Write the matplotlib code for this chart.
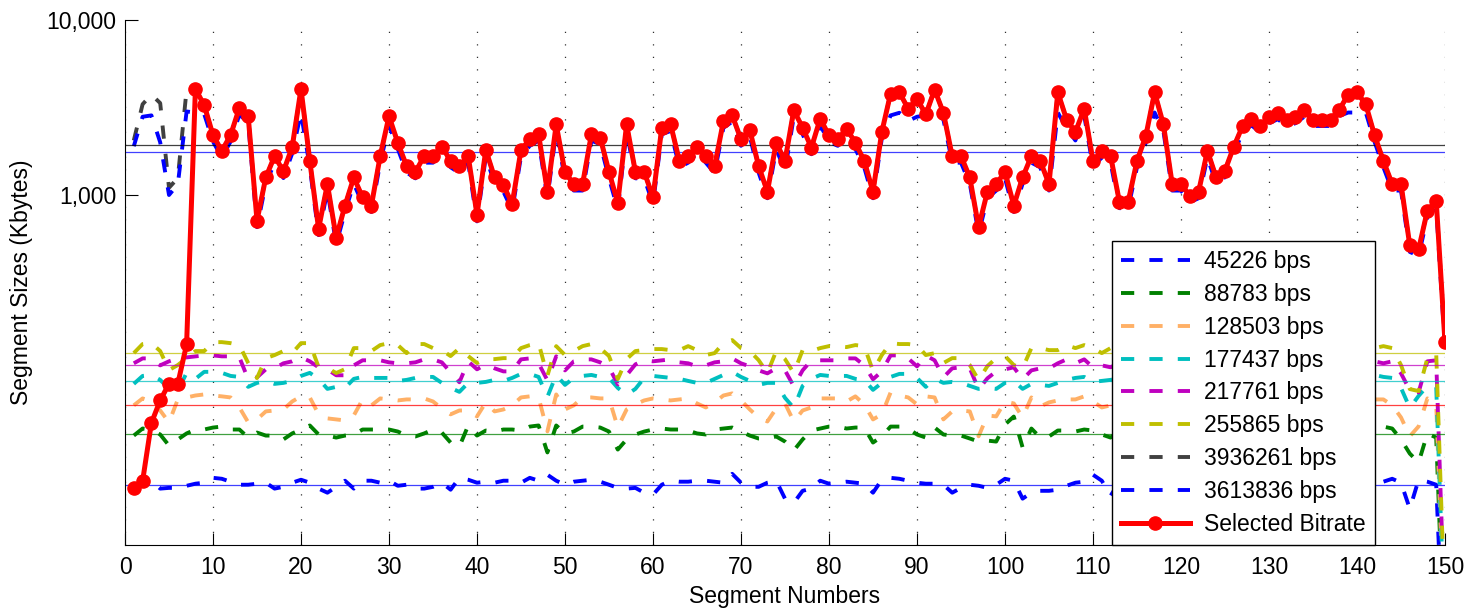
import numpy as np
import matplotlib
matplotlib.use('Agg')
import matplotlib.pyplot as plt
from matplotlib.ticker import FixedLocator, NullLocator

plt.rcParams['font.family'] = ['Liberation Sans', 'DejaVu Sans']

# segment numbers and bitrate labels
segments = np.arange(1, 151)
bitrates = [45226, 88783, 128503, 177437, 217761, 255865, 3936261, 3613836]
seg_dur = 4  # seconds per segment

# segment sizes (Kbytes)
size_45226 = [
    22.1, 22.7, 23.3, 21.0, 21.2, 21.2, 21.8, 22.4, 22.7, 24.2, 23.9, 23.0, 22.1, 22.1, 22.4,
    22.7, 21.0, 21.5, 22.7, 23.6, 22.7, 21.0, 19.9, 21.5, 23.3, 21.0, 23.3, 23.3, 22.7, 23.3,
    21.8, 22.1, 21.0, 21.0, 21.5, 22.7, 20.7, 24.2, 23.6, 22.7, 23.0, 22.7, 23.3, 23.3, 22.7,
    24.2, 23.3, 25.2, 23.3, 22.1, 23.0, 23.3, 23.6, 23.0, 22.1, 21.2, 21.0, 21.2, 19.9, 19.4,
    22.1, 23.3, 23.0, 23.0, 23.3, 23.3, 23.0, 22.7, 25.5, 22.7, 21.5, 21.5, 22.7, 23.3, 18.4,
    17.4, 20.4, 21.0, 23.3, 22.4, 22.7, 23.0, 22.7, 22.4, 19.9, 23.6, 24.2, 23.9, 23.3, 22.7,
    22.4, 22.4, 22.1, 19.9, 21.2, 22.1, 21.8, 21.2, 22.1, 23.9, 23.3, 18.4, 19.9, 20.4, 20.4,
    20.7, 21.8, 22.7, 23.0, 25.2, 23.3, 19.1, 23.0, 21.0, 22.0, 24.0, 21.0, 23.0, 20.0, 22.0,
    23.0, 24.0, 21.0, 22.0, 23.0, 20.0, 22.0, 23.0, 22.0, 24.0, 22.0, 21.0, 23.0, 24.0, 21.0,
    22.0, 20.0, 23.0, 24.0, 22.0, 23.0, 23.0, 23.0, 23.9, 22.7, 16.1, 23.6, 23.0, 22.1, 1.5]
size_88783 = [
    42.2, 46.3, 45.7, 42.8, 37.0, 40.1, 43.4, 45.7, 45.7, 46.9, 47.5, 45.7, 45.7, 41.1, 43.9,
    42.2, 42.2, 40.1, 43.4, 45.7, 48.2, 42.8, 42.2, 41.1, 42.2, 42.8, 45.7, 45.7, 45.7, 45.7,
    44.5, 42.2, 41.7, 43.4, 45.7, 43.9, 38.5, 36.5, 48.2, 42.2, 45.1, 44.5, 45.7, 45.7, 45.1,
    47.5, 48.2, 33.8, 48.2, 43.4, 44.5, 47.5, 47.5, 46.9, 44.5, 35.1, 40.1, 42.8, 44.5, 45.7,
    46.3, 45.7, 45.7, 45.1, 43.4, 42.8, 45.7, 46.3, 46.9, 44.5, 42.2, 40.6, 40.6, 41.7, 39.0,
    34.7, 40.1, 45.1, 46.3, 47.5, 47.5, 46.3, 46.9, 46.9, 38.5, 41.7, 47.5, 47.5, 46.3, 42.8,
    41.1, 46.9, 42.8, 42.2, 42.2, 40.6, 39.0, 39.5, 39.0, 48.8, 54.2, 36.1, 46.3, 41.1, 41.7,
    45.1, 45.1, 44.5, 45.7, 45.1, 42.8, 41.1, 45.0, 40.0, 44.0, 47.0, 42.0, 45.0, 38.0, 43.0,
    46.0, 48.0, 41.0, 44.0, 45.0, 39.0, 45.0, 47.0, 42.0, 48.0, 44.0, 40.0, 46.0, 47.0, 42.0,
    45.0, 39.0, 46.0, 48.0, 43.0, 45.0, 46.3, 47.5, 46.3, 40.1, 33.3, 29.6, 43.4, 41.1, 2.0]
size_128503 = [
    62.8, 68.8, 66.1, 58.7, 50.2, 67.9, 69.7, 71.5, 72.5, 71.5, 70.7, 69.7, 61.1, 50.2, 52.2,
    58.0, 58.7, 59.5, 66.1, 70.7, 69.7, 55.8, 52.9, 52.2, 51.5, 55.0, 67.9, 62.8, 68.8, 67.9,
    67.0, 67.9, 67.9, 68.8, 66.1, 60.3, 55.8, 58.7, 58.7, 54.3, 65.3, 58.0, 59.5, 62.8, 69.7,
    70.7, 69.7, 44.6, 72.5, 59.5, 62.8, 69.7, 69.7, 68.8, 68.8, 47.0, 59.5, 63.6, 67.0, 68.8,
    67.9, 67.0, 67.9, 68.8, 64.4, 61.1, 65.3, 71.5, 73.5, 67.0, 59.5, 53.6, 50.8, 60.3, 64.4,
    50.8, 58.7, 61.1, 68.8, 68.8, 68.8, 66.1, 70.7, 63.6, 52.2, 55.8, 74.4, 71.5, 69.7, 63.6,
    70.7, 69.7, 52.2, 58.0, 58.7, 58.0, 41.8, 55.0, 54.3, 66.1, 64.4, 53.6, 69.7, 61.9, 65.3,
    67.0, 67.9, 67.9, 70.7, 66.1, 61.1, 62.8, 66.0, 58.0, 63.0, 68.0, 60.0, 65.0, 56.0, 62.0,
    67.0, 70.0, 59.0, 64.0, 66.0, 57.0, 65.0, 68.0, 61.0, 71.0, 63.0, 58.0, 66.0, 69.0, 61.0,
    65.0, 56.0, 67.0, 70.0, 62.0, 66.0, 67.9, 67.9, 62.8, 53.6, 41.8, 47.6, 68.8, 64.4, 2.5]
size_177437 = [
    83.3, 92.5, 93.7, 87.8, 78.0, 76.0, 96.3, 89.0, 97.6, 97.6, 96.3, 92.5, 91.3, 80.1, 84.4,
    86.6, 83.3, 84.4, 86.6, 92.5, 96.3, 89.0, 78.0, 80.1, 79.0, 89.0, 91.3, 90.1, 90.1, 90.1,
    86.6, 87.8, 90.1, 91.3, 91.3, 84.4, 79.0, 75.0, 84.4, 84.4, 85.5, 87.8, 86.6, 90.1, 95.0,
    95.0, 91.3, 70.2, 93.7, 82.2, 90.1, 92.5, 93.7, 91.3, 90.1, 79.0, 72.1, 78.0, 90.1, 92.5,
    91.3, 90.1, 89.0, 86.6, 84.4, 84.4, 89.0, 93.7, 97.6, 91.3, 86.6, 82.2, 84.4, 84.4, 69.3,
    60.7, 81.1, 89.0, 93.7, 92.5, 92.5, 92.5, 89.0, 87.8, 77.0, 84.4, 91.3, 95.0, 95.0, 90.1,
    80.1, 89.0, 84.4, 85.5, 84.4, 81.1, 78.0, 79.0, 78.0, 84.4, 86.6, 78.0, 83.3, 82.2, 81.1,
    84.4, 87.8, 90.1, 91.3, 85.5, 86.6, 87.8, 90.0, 81.0, 88.0, 93.0, 84.0, 89.0, 78.0, 87.0,
    91.0, 95.0, 83.0, 88.0, 90.0, 80.0, 89.0, 92.0, 86.0, 96.0, 88.0, 82.0, 91.0, 94.0, 85.0,
    89.0, 79.0, 91.0, 95.0, 87.0, 90.0, 93.7, 91.3, 90.1, 79.0, 60.7, 71.1, 81.1, 80.1, 3.0]
size_217761 = [
    109.2, 116.5, 116.5, 106.3, 112.1, 116.5, 118.1, 119.7, 121.2, 121.2, 119.7, 119.7, 118.1, 88.5, 90.8,
    100.9, 102.2, 109.2, 112.1, 118.1, 112.1, 103.6, 100.9, 93.3, 93.3, 106.3, 113.6, 113.6, 113.6, 110.6,
    109.2, 109.2, 110.6, 115.0, 115.0, 110.6, 97.0, 85.1, 112.1, 100.9, 107.7, 102.2, 98.2, 98.2, 115.0,
    116.5, 109.2, 87.3, 119.7, 99.5, 112.1, 115.0, 115.0, 110.6, 103.6, 82.8, 93.3, 107.7, 113.6, 112.1,
    113.6, 115.0, 110.6, 109.2, 104.9, 106.3, 110.6, 112.1, 116.5, 109.2, 104.9, 99.5, 95.7, 102.2, 99.5,
    80.7, 99.5, 113.6, 113.6, 113.6, 113.6, 116.5, 116.5, 106.3, 88.5, 98.2, 121.2, 121.2, 116.5, 104.9,
    121.2, 113.6, 90.8, 102.2, 103.6, 102.2, 77.6, 89.6, 98.2, 100.9, 103.6, 88.5, 99.5, 102.2, 102.2,
    109.2, 115.0, 109.2, 115.0, 103.6, 106.3, 103.6, 110.0, 98.0, 107.0, 114.0, 102.0, 109.0, 95.0, 106.0,
    112.0, 116.0, 101.0, 108.0, 111.0, 99.0, 110.0, 113.0, 105.0, 118.0, 107.0, 100.0, 112.0, 115.0, 104.0,
    109.0, 97.0, 113.0, 117.0, 106.0, 110.0, 112.1, 109.2, 112.1, 95.7, 76.6, 74.5, 112.1, 113.6, 3.5]
size_255865 = [
    124.9, 140.7, 142.4, 128.3, 99.9, 106.7, 116.9, 128.3, 128.3, 144.3, 144.3, 142.4, 138.8, 109.6, 90.0,
    116.9, 121.7, 128.3, 124.9, 142.4, 142.4, 103.9, 102.6, 96.1, 101.2, 133.4, 133.4, 128.3, 138.8, 142.4,
    138.8, 124.9, 140.7, 140.7, 133.4, 129.9, 120.1, 133.4, 120.1, 109.6, 115.4, 115.4, 116.9, 116.9, 133.4,
    138.8, 142.4, 92.7, 136.9, 121.7, 128.3, 136.9, 140.7, 133.4, 120.1, 88.8, 115.4, 128.3, 129.9, 131.7,
    131.7, 129.9, 129.9, 136.9, 129.9, 121.7, 124.9, 142.4, 148.2, 133.4, 128.3, 113.9, 96.1, 128.3, 115.4,
    96.1, 129.9, 128.3, 133.4, 136.9, 136.9, 135.2, 138.8, 136.9, 98.7, 121.7, 142.4, 140.7, 140.7, 138.8,
    121.7, 124.9, 109.6, 116.9, 116.9, 106.7, 87.6, 105.3, 116.9, 120.1, 106.7, 102.6, 133.4, 133.4, 129.9,
    129.9, 138.8, 133.4, 138.8, 133.4, 124.9, 133.4, 131.0, 118.0, 127.0, 135.0, 122.0, 129.0, 110.0, 126.0,
    133.0, 137.0, 121.0, 128.0, 131.0, 116.0, 130.0, 134.0, 125.0, 139.0, 127.0, 120.0, 132.0, 136.0, 124.0,
    129.0, 118.0, 133.0, 138.0, 126.0, 130.0, 133.4, 136.9, 133.4, 106.7, 77.8, 75.8, 116.9, 124.9, 4.0]
size_3936261 = [
    2050, 3300, 3750, 3350, 1100, 1250, 4000, 4040, 3260, 2200, 1787, 2200, 3150, 2820, 714,
    1260, 1670, 1365, 1880, 4040, 1567, 641, 1155, 570, 870, 1260, 970, 870, 1670, 2820,
    1990, 1466, 1356, 1670, 1670, 1890, 1567, 1456, 1670, 770, 1808, 1260, 1140, 889, 1808,
    2080, 2220, 1044, 2530, 1345, 1155, 1155, 2220, 2130, 1356, 901, 2530, 1356, 1356, 970,
    2425, 2530, 1567, 1670, 1890, 1670, 1456, 2640, 2850, 2080, 2350, 1466, 1044, 1990, 1567,
    3050, 2425, 1865, 2730, 2190, 2080, 2390, 1990, 1567, 1044, 2290, 3800, 3860, 3110, 3550,
    2885, 4000, 2950, 1670, 1670, 1260, 655, 1044, 1155, 1356, 870, 1260, 1670, 1567, 1155,
    3860, 2700, 2290, 3110, 1567, 1787, 1670, 916, 916, 1567, 2170, 3860, 2530, 1155, 1155,
    990, 1044, 1787, 1260, 1380, 1890, 2480, 2730, 2480, 2800, 2950, 2700, 2800, 3050, 2700,
    2700, 2700, 3080, 3750, 3860, 3290, 2190, 1567, 1155, 1155, 515, 489, 815, 928, 144]
size_3613836 = [
    1900, 2800, 2850, 2000, 1000, 1150, 3000, 2960, 2900, 2020, 1640, 2020, 2880, 2590, 655,
    1160, 1530, 1250, 1730, 2950, 1440, 590, 1060, 523, 800, 1160, 890, 800, 1530, 2500,
    1830, 1345, 1245, 1530, 1530, 1735, 1440, 1335, 1530, 707, 1660, 1160, 1045, 816, 1660,
    1910, 2040, 958, 2320, 1235, 1060, 1060, 2040, 1955, 1245, 827, 2320, 1245, 1245, 890,
    2225, 2320, 1440, 1530, 1735, 1530, 1335, 2420, 2620, 1910, 2160, 1345, 958, 1830, 1375,
    2800, 2225, 1710, 2505, 2010, 1910, 2195, 1830, 1440, 958, 2100, 2850, 2950, 2650, 2800,
    2850, 3000, 2700, 1530, 1530, 1160, 601, 958, 1060, 1245, 800, 1160, 1530, 1440, 1060,
    2960, 2400, 2050, 2850, 1440, 1640, 1530, 841, 841, 1440, 1990, 2960, 2320, 1060, 1060,
    909, 958, 1640, 1160, 1265, 1735, 2275, 2505, 2275, 2570, 2710, 2480, 2570, 2800, 2480,
    2480, 2480, 2830, 2960, 2960, 2960, 2010, 1440, 1060, 1060, 473, 449, 748, 852, 132]
selected = [
    21.1, 23.2, 49.8, 67.1, 83.4, 83.4, 140, 4040, 3260, 2200, 1787, 2200, 3150, 2820, 714,
    1260, 1670, 1365, 1880, 4040, 1567, 641, 1155, 570, 870, 1260, 970, 870, 1670, 2820,
    1990, 1466, 1356, 1670, 1670, 1890, 1567, 1456, 1670, 770, 1808, 1260, 1140, 889, 1808,
    2080, 2220, 1044, 2530, 1345, 1155, 1155, 2220, 2130, 1356, 901, 2530, 1356, 1356, 970,
    2425, 2530, 1567, 1670, 1890, 1670, 1456, 2640, 2850, 2080, 2350, 1466, 1044, 1990, 1567,
    3050, 2425, 1865, 2730, 2190, 2080, 2390, 1990, 1567, 1044, 2290, 3800, 3860, 3110, 3550,
    2885, 4000, 2950, 1670, 1670, 1260, 655, 1044, 1155, 1356, 870, 1260, 1670, 1567, 1155,
    3860, 2700, 2290, 3110, 1567, 1787, 1670, 916, 916, 1567, 2170, 3860, 2530, 1155, 1155,
    990, 1044, 1787, 1260, 1380, 1890, 2480, 2730, 2480, 2800, 2950, 2700, 2800, 3050, 2700,
    2700, 2700, 3080, 3750, 3860, 3290, 2190, 1567, 1155, 1155, 515, 489, 815, 928, 144]

series = [size_45226, size_88783, size_128503, size_177437,
          size_217761, size_255865, size_3936261, size_3613836]
for s in series + [selected]:
    assert len(s) == 150, len(s)

dash_colors = ['#0000ff', '#008000', '#ffb066', '#00bfbf',
               '#bf00bf', '#bfbf00', '#404040', '#0000ff']
avg_colors = ['#0000ff', '#008000', '#ff0000', '#00bfbf',
              '#bf00bf', '#bfbf00', '#000000', '#0000ff']

fs = 16.5

fig = plt.figure(figsize=(14.7, 6.11), dpi=100)
ax = fig.add_axes([125 / 1470, 66 / 611, 1320 / 1470, 525 / 611])

for br, vals, c in zip(bitrates, series, dash_colors):
    ax.plot(segments, vals, color=c, lw=2.8, dashes=(3.4, 3.9),
            label='%d bps' % br)

# nominal segment size for every bitrate
for br, c in zip(bitrates, avg_colors):
    ax.axhline(br * seg_dur / 8 / 1024, color=c, lw=0.9, alpha=0.75)

ax.plot(segments, selected, color='red', lw=3.6, marker='o', ms=9.5,
        label='Selected Bitrate')

ax.set_yscale('log')
ax.set_xlim(0, 150)
ax.set_ylim(10, 10000)
ax.yaxis.set_major_locator(FixedLocator([1000, 10000]))
ax.yaxis.set_minor_locator(NullLocator())
ax.set_yticklabels(['1,000', '10,000'])
ax.set_xticks(range(0, 151, 10))

for side in ['top', 'right']:
    ax.spines[side].set_visible(False)
ax.tick_params(direction='in', length=9, labelsize=fs, pad=6)
ax.tick_params(axis='x', pad=8)
ax.xaxis.grid(True, linestyle=(0, (1, 9)), color='#303030', lw=0.9)

ax.set_xlabel('Segment Numbers', fontsize=fs, labelpad=4)
ax.set_ylabel('Segment Sizes (Kbytes)', fontsize=fs, labelpad=10)

leg = ax.legend(loc='lower left', bbox_to_anchor=(0.7475, 0.0), borderaxespad=0,
                fontsize=fs, handlelength=3.0, handletextpad=0.62,
                labelspacing=0.43, borderpad=0.4,
                fancybox=False, framealpha=1, edgecolor='black')
leg.get_frame().set_linewidth(1.0)

fig.savefig('out.png', dpi=100)
